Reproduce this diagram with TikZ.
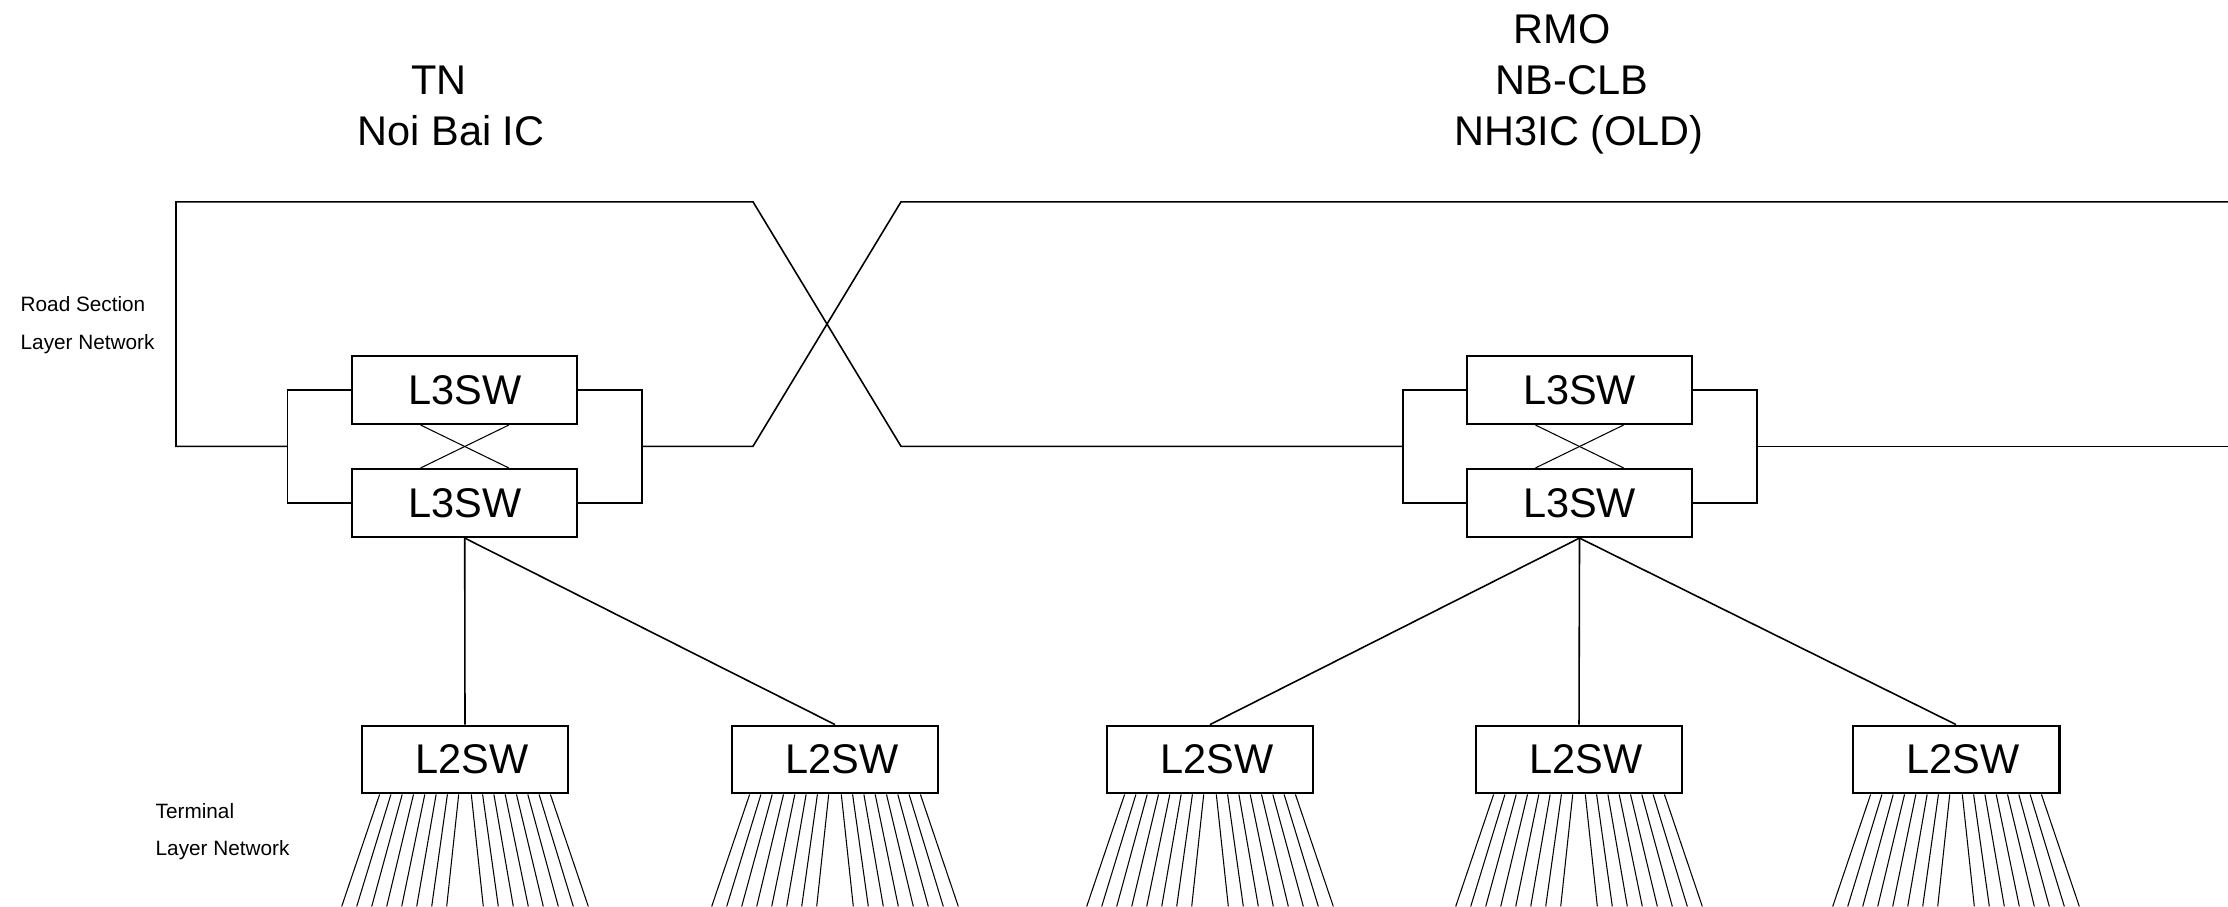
\documentclass[tikz,border=0pt]{standalone}
\usepackage{fontspec}
\setmainfont{Liberation Sans}
\usetikzlibrary{calc}

\begin{document}
\begin{tikzpicture}[x=0.01cm, y=-0.01cm,
    swbox/.style={draw, line width=0.6pt, inner sep=0pt, font=\fontsize{11.8}{14}\selectfont},
    l3box/.style={swbox, minimum width=2.247cm, minimum height=0.68cm},
    l2box/.style={swbox, minimum width=2.067cm, minimum height=0.677cm},
    link/.style={line width=0.45pt},
    xlink/.style={line width=0.3pt},
    fan/.style={line width=0.3pt},
    sitetitle/.style={anchor=base, inner sep=0pt, font=\fontsize{11.8}{14}\selectfont},
    layerlabel/.style={anchor=base west, inner sep=0pt, font=\fontsize{5.9}{7}\selectfont}]
  \useasboundingbox (0,0) rectangle (2228,907);
  % Site names
  \node[sitetitle] (tnTop) at (439,94.5) {TN};
  \node[sitetitle] (tnBot) at (451,145.6) {Noi Bai IC};
  \node[sitetitle] (rmTop) at (1562,43.3) {RMO};
  \node[sitetitle] (rmMid) at (1572,94.5) {NB-CLB};
  \node[sitetitle] (rmBot) at (1579,145.6) {NH3IC (OLD)};
  % Layer names
  \node[layerlabel] (roadA) at (20,311.4) {Road Section};
  \node[layerlabel] (roadB) at (20,349.4) {Layer Network};
  \node[layerlabel] (termA) at (155,818.4) {Terminal};
  \node[layerlabel] (termB) at (155,855.4) {Layer Network};
  % Road section switches
  \node[l3box] (tnA) at (464.7,390) {L3SW};
  \node[l3box] (tnB) at (464.7,503) {L3SW};
  \node[l3box] (rmA) at (1579.5,390) {L3SW};
  \node[l3box] (rmB) at (1579.5,503) {L3SW};
  % Terminal switches
  \foreach \n/\x in {ta/465, tb/835, ra/1210, rb/1579, rc/1956}
    \node[l2box] (\n) at (\x,759.5) {\hspace*{0.14cm}L2SW};
  % Brackets
  \coordinate (tnL) at (287.7,446.3);
  \coordinate (tnR) at (641.7,446.3);
  \coordinate (rmL) at (1402.7,446.3);
  \coordinate (rmR) at (1756.7,446.3);
  \draw[link] (tnA.west) -| (tnL) |- (tnB.west);
  \draw[link] (tnA.east) -| (tnR) |- (tnB.east);
  \draw[link] (rmA.west) -| (rmL) |- (rmB.west);
  \draw[link] (rmA.east) -| (rmR) |- (rmB.east);
  % Ring
  \draw[link] (tnL) -| (176,201.8) -- (753,201.8) -- (901,446.3) -- (rmL);
  \draw[link] (tnR) -- (753,446.3) -- (901,201.8) -- (2228,201.8);
  \draw[link] (rmR) -- (2228,446.3);
  % Cross links
  \foreach \a/\b in {tnA/tnB, rmA/rmB} {
    \draw[xlink] ([xshift=-0.44cm]\a.south) -- ([xshift=0.44cm]\b.north);
    \draw[xlink] ([xshift=0.44cm]\a.south) -- ([xshift=-0.44cm]\b.north);
  }
  % Uplinks
  \foreach \s/\t in {tnB/ta, tnB/tb, rmB/ra, rmB/rb, rmB/rc}
    \draw[link] (\s.south) -- (\t.north);
  % Terminal fans
  \foreach \n in {ta, tb, ra, rb, rc}
    \foreach \k in {0,...,7} {
      \draw[fan] ($(\n.south)+({6.3+11.3*\k},0)$) -- ($(\n.south)+({18.3+15*\k},112)$);
      \draw[fan] ($(\n.south)+({-6.3-11.3*\k},0)$) -- ($(\n.south)+({-18.3-15*\k},112)$);
    }
\end{tikzpicture}
\end{document}
